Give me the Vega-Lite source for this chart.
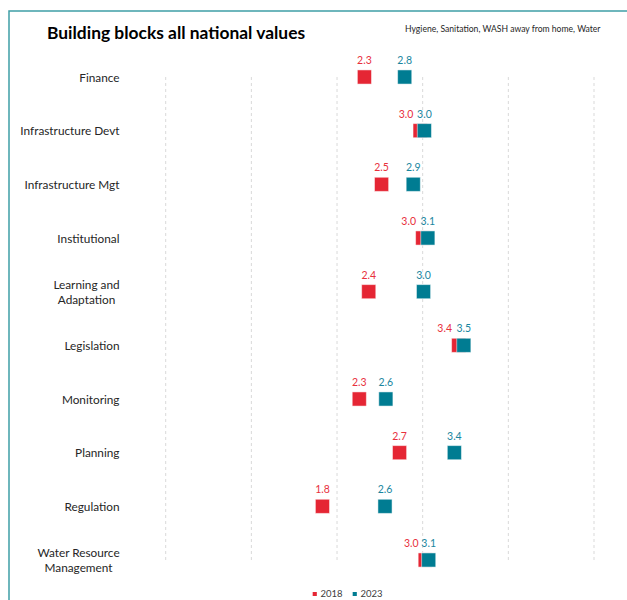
{
  "$schema": "https://vega.github.io/schema/vega-lite/v6.json",
  "width": 620,
  "height": 592,
  "autosize": {"type": "none"},
  "padding": {"left": 9, "top": 11, "right": 0, "bottom": 0},
  "background": "white",
  "config": {
    "view": {"stroke": "#3f9ea6", "strokeWidth": 1.5},
    "font": "Lato",
    "legend": {
      "orient": "none", "legendX": 301, "legendY": 578, "direction": "horizontal",
      "symbolType": "square", "symbolSize": 32, "labelFontSize": 9.5, "labelColor": "#404040",
      "padding": 0, "columnPadding": 5, "labelOffset": 1, "titleFontSize": 0
    }
  },
  "title": {
    "text": "Building blocks all national values",
    "anchor": "start", "frame": "group", "dx": 38, "offset": -31,
    "fontSize": 17.4, "fontWeight": "bold", "color": "#000000", "font": "Lato"
  },
  "layer": [
    {
      "data": {"values": [{"g": 0}, {"g": 1}, {"g": 2}, {"g": 3}, {"g": 4}, {"g": 5}]},
      "mark": {"type": "rule", "strokeDash": [3, 3], "color": "#d9d9d9", "strokeWidth": 1},
      "encoding": {
        "x": {"field": "g", "type": "quantitative",
          "scale": {"domain": [0, 5], "range": [156.7, 585], "nice": false, "zero": false},
          "axis": {"orient": "top", "title": "Hygiene, Sanitation, WASH away from home, Water", "labels": false, "ticks": false, "domain": false, "grid": false,
            "titleFontSize": 8.6, "titleFontWeight": "normal", "titleColor": "#262626", "titleX": 591, "titleY": 17, "titleAlign": "right", "titleBaseline": "middle"}},
        "y": {"datum": "Finance", "type": "nominal"},
        "y2": {"datum": "Water Resource Management"}
      }
    },
    {
      "data": {"name": "vals"},
      "mark": {"type": "square", "size": 200, "filled": true, "opacity": 1, "stroke": "#ffffff", "strokeWidth": 0.5},
      "encoding": {
        "x": {"field": "value", "type": "quantitative",
          "scale": {"domain": [0, 5], "range": [156.7, 585], "nice": false, "zero": false},
          "axis": {"orient": "top", "title": "Hygiene, Sanitation, WASH away from home, Water", "labels": false, "ticks": false, "domain": false, "grid": false,
            "titleFontSize": 8.6, "titleFontWeight": "normal", "titleColor": "#262626", "titleX": 591, "titleY": 17, "titleAlign": "right", "titleBaseline": "middle"}},
        "y": {"field": "block", "type": "nominal",
          "scale": {"type": "point", "padding": 0, "range": [66, 549],
            "domain": ["Finance", "Infrastructure Devt", "Infrastructure Mgt", "Institutional", "Learning and Adaptation", "Legislation", "Monitoring", "Planning", "Regulation", "Water Resource Management"]},
          "axis": {"title": null, "orient": "left", "offset": -110, "ticks": false, "tickSize": 0, "domain": false, "grid": false,
            "labelFontSize": 11.8, "labelColor": "#262626", "labelBaseline": "middle", "labelLineHeight": 15,
            "labelAlign": {"condition": {"test": "datum.label == 'Learning and Adaptation' || datum.label == 'Water Resource Management'", "value": "center"}, "value": "right"},
            "labelPadding": {"condition": [
              {"test": "datum.label == 'Learning and Adaptation'", "value": 33},
              {"test": "datum.label == 'Water Resource Management'", "value": 41}], "value": 0},
            "labelOffset": {"condition": {"test": "datum.label == 'Learning and Adaptation' || datum.label == 'Water Resource Management'", "value": -7.5}, "value": 0},
            "labelExpr": "datum.label == 'Learning and Adaptation' ? ['Learning and', 'Adaptation'] : datum.label == 'Water Resource Management' ? ['Water Resource', 'Management'] : datum.label"}},
        "color": {"field": "year", "type": "nominal",
          "scale": {"domain": ["2018", "2023"], "range": ["#e52634", "#007c92"]},
          "legend": {"title": null}}
      }
    },
    {
      "data": {"name": "vals"},
      "transform": [
        {"joinaggregate": [{"op": "max", "field": "value", "as": "vmax"}, {"op": "min", "field": "value", "as": "vmin"}], "groupby": ["block"]}
      ],
      "mark": {"type": "text", "dy": -16, "fontSize": 10.5, "align": "center", "baseline": "middle",
        "dx": {"expr": "datum.year == '2018' && (datum.vmax - datum.vmin) < 0.2 ? -14 : 0"}},
      "encoding": {
        "x": {"field": "value", "type": "quantitative"},
        "y": {"field": "block", "type": "nominal"},
        "text": {"field": "value", "type": "quantitative", "format": ".1f"},
        "color": {"condition": {"test": "datum.year == '2018'", "value": "#e8303d"}, "value": "#1a86a0"}
      }
    }
  ],
  "datasets": {
    "vals": [
      {"block": "Finance", "year": "2018", "value": 2.32},
      {"block": "Infrastructure Devt", "year": "2018", "value": 2.97},
      {"block": "Infrastructure Mgt", "year": "2018", "value": 2.52},
      {"block": "Institutional", "year": "2018", "value": 3.0},
      {"block": "Learning and Adaptation", "year": "2018", "value": 2.37},
      {"block": "Legislation", "year": "2018", "value": 3.42},
      {"block": "Monitoring", "year": "2018", "value": 2.26},
      {"block": "Planning", "year": "2018", "value": 2.73},
      {"block": "Regulation", "year": "2018", "value": 1.83},
      {"block": "Water Resource Management", "year": "2018", "value": 3.03},
      {"block": "Finance", "year": "2023", "value": 2.79},
      {"block": "Infrastructure Devt", "year": "2023", "value": 3.02},
      {"block": "Infrastructure Mgt", "year": "2023", "value": 2.89},
      {"block": "Institutional", "year": "2023", "value": 3.06},
      {"block": "Learning and Adaptation", "year": "2023", "value": 3.01},
      {"block": "Legislation", "year": "2023", "value": 3.48},
      {"block": "Monitoring", "year": "2023", "value": 2.57},
      {"block": "Planning", "year": "2023", "value": 3.37},
      {"block": "Regulation", "year": "2023", "value": 2.56},
      {"block": "Water Resource Management", "year": "2023", "value": 3.07}
    ]
  }
}
